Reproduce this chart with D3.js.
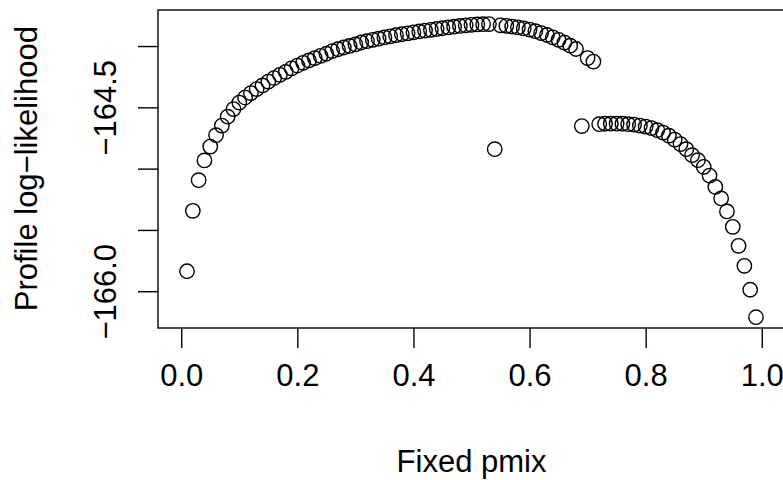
<!DOCTYPE html>
<html>
<head>
<meta charset="utf-8">
<script src="https://cdn.jsdelivr.net/npm/d3@7"></script>
<style>
  body { margin: 0; background: #fff; }
  svg { display: block; font-family: "Liberation Sans", Arial, Helvetica, sans-serif; }
  .axis path, .axis line { stroke: #000; stroke-width: 1.4; }
  .axis text { fill: #000; font-size: 31px; }
</style>
</head>
<body>
<div class="plot"></div>
<script>
// fixed mixing proportion 0.01 .. 0.99
var pmix = [
  0.01, 0.02, 0.03, 0.04, 0.05, 0.06, 0.07, 0.08, 0.09, 0.10,
  0.11, 0.12, 0.13, 0.14, 0.15, 0.16, 0.17, 0.18, 0.19, 0.20,
  0.21, 0.22, 0.23, 0.24, 0.25, 0.26, 0.27, 0.28, 0.29, 0.30,
  0.31, 0.32, 0.33, 0.34, 0.35, 0.36, 0.37, 0.38, 0.39, 0.40,
  0.41, 0.42, 0.43, 0.44, 0.45, 0.46, 0.47, 0.48, 0.49, 0.50,
  0.51, 0.52, 0.53, 0.54, 0.55, 0.56, 0.57, 0.58, 0.59, 0.60,
  0.61, 0.62, 0.63, 0.64, 0.65, 0.66, 0.67, 0.68, 0.69, 0.70,
  0.71, 0.72, 0.73, 0.74, 0.75, 0.76, 0.77, 0.78, 0.79, 0.80,
  0.81, 0.82, 0.83, 0.84, 0.85, 0.86, 0.87, 0.88, 0.89, 0.90,
  0.91, 0.92, 0.93, 0.94, 0.95, 0.96, 0.97, 0.98, 0.99
];

// profile log-likelihood
var loglik = [
  -165.837, -165.344, -165.094, -164.933, -164.820, -164.727, -164.649, -164.576, -164.514, -164.461,
  -164.420, -164.384, -164.351, -164.321, -164.290, -164.261, -164.235, -164.211, -164.182, -164.159,
  -164.137, -164.117, -164.098, -164.080, -164.063, -164.041, -164.026, -164.012, -163.999, -163.987,
  -163.971, -163.960, -163.949, -163.940, -163.930, -163.921, -163.912, -163.904, -163.896, -163.888,
  -163.881, -163.874, -163.868, -163.861, -163.855, -163.848, -163.842, -163.836, -163.831, -163.827,
  -163.824, -163.822, -163.821, -164.841, -163.831, -163.835, -163.841, -163.848, -163.856, -163.866,
  -163.879, -163.894, -163.910, -163.929, -163.949, -163.972, -163.997, -164.024, -164.653, -164.098,
  -164.127, -164.637, -164.634, -164.633, -164.633, -164.634, -164.637, -164.641, -164.649, -164.657,
  -164.669, -164.686, -164.706, -164.731, -164.763, -164.800, -164.841, -164.890, -164.931, -164.985,
  -165.057, -165.149, -165.243, -165.349, -165.475, -165.630, -165.793, -165.988, -166.212
];

var xTicks = [0, 0.2, 0.4, 0.6, 0.8, 1.0];
var yTicks = [-166.0, -165.5, -165.0, -164.5, -164.0];
var yTickLabels = ["−166.0", "", "", "−164.5", ""];
var xLim = [-0.04, 1.04];
var yLim = [-166.30, -163.706];

var W = 783, H = 480;
var box = { left: 158, top: 10, right: 785, bottom: 328 };

var svg = d3
  .select(".plot")
  .append("svg")
  .attr("width", W)
  .attr("height", H)
  .style("overflow", "hidden");

var xScale = d3.scaleLinear().domain(xLim).range([box.left, box.right]);
var yScale = d3.scaleLinear().domain(yLim).range([box.bottom, box.top]);

var data = pmix.map((p, i) => ({ p: p, ll: loglik[i] }));

// frame
svg
  .append("rect")
  .attr("x", box.left)
  .attr("y", box.top)
  .attr("width", box.right - box.left)
  .attr("height", box.bottom - box.top)
  .attr("fill", "none")
  .attr("stroke", "#000")
  .attr("stroke-width", 1.4);

var xAxis = d3
  .axisBottom(xScale)
  .tickValues(xTicks)
  .tickSize(20)
  .tickFormat(d3.format(".1f"));

var gx = svg
  .append("g")
  .attr("class", "x axis")
  .attr("transform", `translate(0,${box.bottom})`)
  .call(xAxis);
gx.select(".domain").remove();
gx.selectAll(".tick text").attr("dy", null).attr("y", 58);

var yAxis = d3
  .axisLeft(yScale)
  .tickValues(yTicks)
  .tickSize(20)
  .tickFormat((d, i) => yTickLabels[i]);

var gy = svg
  .append("g")
  .attr("class", "y axis")
  .attr("transform", `translate(${box.left},0)`)
  .call(yAxis);
gy.select(".domain").remove();
gy.selectAll(".tick text")
  .attr("x", null)
  .attr("dy", null)
  .attr("text-anchor", "middle")
  .attr("transform", "translate(-42,0) rotate(-90)");

// axis titles
svg
  .append("text")
  .attr("x", xScale(0.5))
  .attr("y", 472)
  .attr("text-anchor", "middle")
  .attr("font-size", 31)
  .text("Fixed pmix");

svg
  .append("text")
  .attr("transform", `translate(37,${yScale(-165.0)}) rotate(-90)`)
  .attr("text-anchor", "middle")
  .attr("font-size", 31)
  .text("Profile log−likelihood");

// points
svg
  .append("g")
  .selectAll("circle")
  .data(data)
  .enter()
  .append("circle")
  .attr("cx", d => xScale(d.p))
  .attr("cy", d => yScale(d.ll))
  .attr("r", 7.2)
  .attr("fill", "none")
  .attr("stroke", "#000")
  .attr("stroke-width", 1.4);
</script>
</body>
</html>
